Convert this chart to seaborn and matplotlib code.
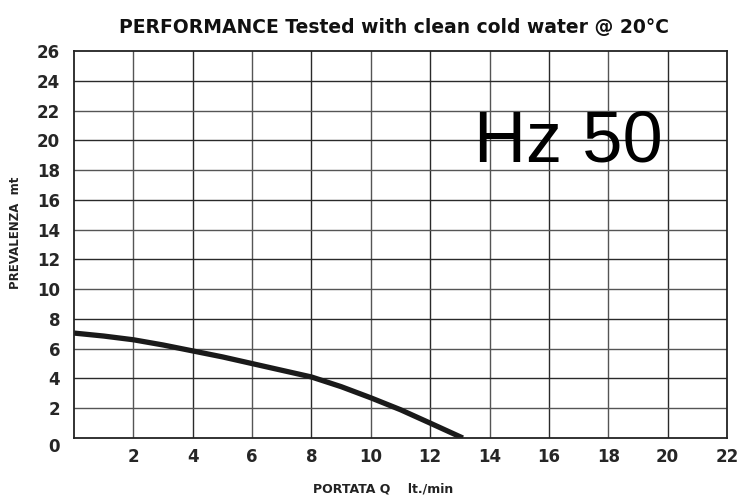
import matplotlib
matplotlib.use("Agg")
import matplotlib.pyplot as plt
import matplotlib.transforms as mtransforms
import seaborn as sns
import pandas as pd

flow = [0, 1, 2, 3, 4, 5, 6, 7, 8, 9, 10, 11, 12, 13.1]
head = [7.05, 6.85, 6.6, 6.25, 5.85, 5.45, 5.0, 4.55, 4.1, 3.45, 2.7, 1.9, 1.0, 0.0]
xticks = [2, 4, 6, 8, 10, 12, 14, 16, 18, 20, 22]
yticks = [0, 2, 4, 6, 8, 10, 12, 14, 16, 18, 20, 22, 24, 26]

df = pd.DataFrame({"flow": flow, "head": head})

sns.set_style("white")
plt.rcParams['font.family'] = ['DejaVu Sans']

fig = plt.figure(figsize=(7.4, 4.99), dpi=100)
ax = fig.add_axes([74/740, 1 - 438/499, 653/740, 387/499])

sns.lineplot(data=df, x="flow", y="head", ax=ax, color="#1a1a1a", linewidth=3.8,
             solid_capstyle="butt")

ax.set_xlim(0, 22)
ax.set_ylim(0, 26)
for i, v in enumerate(range(2, 22, 2)):
    ax.axvline(v, color="#2a2a2a" if i % 2 else "#555555", lw=1.0, zorder=0)
for i, v in enumerate(range(2, 26, 2)):
    ax.axhline(v, color="#2a2a2a" if i % 2 else "#555555", lw=1.0, zorder=0)

ax.set_xticks(xticks)
ax.set_xticklabels([str(t) for t in xticks], fontsize=12, fontweight="bold")
ax.set_yticks(yticks)
ax.set_yticklabels([str(t) for t in yticks], fontsize=12, fontweight="bold")
ax.tick_params(axis="x", length=0, pad=7)
ax.tick_params(axis="y", length=0, pad=10)
zero_lbl = ax.get_yticklabels()[0]
zero_lbl.set_transform(zero_lbl.get_transform() +
                       mtransforms.ScaledTranslation(0, -7/100, fig.dpi_scale_trans))

for s in ax.spines.values():
    s.set_color("#222222")
    s.set_linewidth(1.3)

ax.set_xlabel("PORTATA Q    lt./min", fontsize=9, fontweight="bold", color="#222222")
ax.xaxis.set_label_coords((383 - 74) / 653, -(483 - 438) / 387)
ax.set_ylabel("PREVALENZA  mt", fontsize=8.5, fontweight="bold", color="#222222")
ax.yaxis.set_label_coords(-(74 - 22) / 653, (438 - 233) / 387)

fig.text(394/740, 1 - 27/499, "PERFORMANCE Tested with clean cold water @ 20°C",
         ha="center", va="center", fontsize=13.5, fontweight="bold", color="#111111")

ax.text(16.65, 19.8, "Hz 50", fontsize=52, ha="center", va="center",
        family=["Liberation Sans", "DejaVu Sans"], color="#000000")

fig.savefig("out.png", dpi=100)
